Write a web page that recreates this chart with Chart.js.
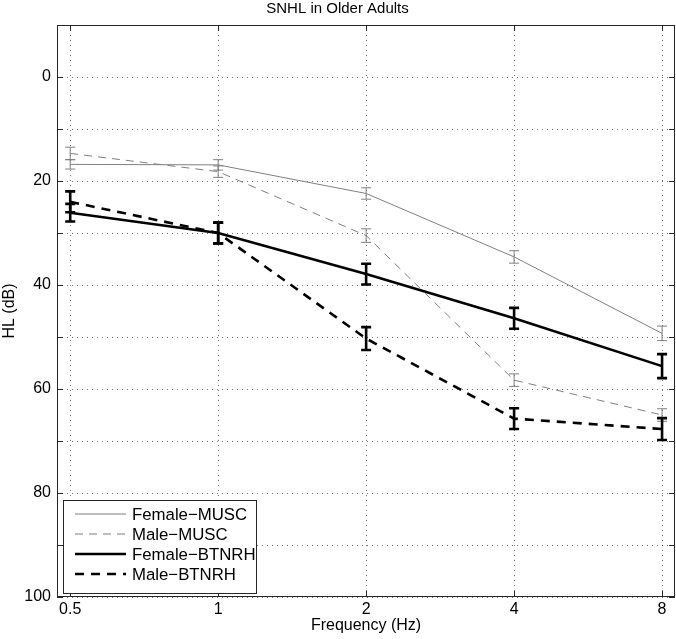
<!DOCTYPE html>
<html>
<head>
<meta charset="utf-8">
<script src="https://cdn.jsdelivr.net/npm/chart.js@4/dist/chart.umd.min.js"></script>
<style>
html,body{margin:0;padding:0;background:#fff;}
#wrap{width:676px;height:639px;position:relative;}
</style>
</head>
<body>
<div id="wrap"><canvas id="c" width="676" height="639"></canvas></div>
<script>
const frequencies = [0.5, 1, 2, 4, 8];
const xTickValues = [0.5, 1, 2, 4, 8];
const yTickValues = [0, 20, 40, 60, 80, 100];

const femaleMUSC = [16.8, 16.9, 22.4, 34.6, 49.3];
const femaleMUSCErr = [0.9, 1.0, 1.1, 1.2, 1.4];
const maleMUSC = [14.7, 18.2, 30.5, 58.3, 65.0];
const maleMUSCErr = [1.2, 1.1, 1.3, 1.2, 1.2];
const femaleBTNRH = [26.1, 30.0, 37.9, 46.4, 55.6];
const femaleBTNRHErr = [1.7, 2.0, 2.0, 2.0, 2.3];
const maleBTNRH = [24.0, 30.0, 50.3, 65.7, 67.7];
const maleBTNRHErr = [2.0, 2.0, 2.2, 2.0, 2.1];

const seriesNames = ['Female\u2212MUSC', 'Male\u2212MUSC', 'Female\u2212BTNRH', 'Male\u2212BTNRH'];

const FONT = '"Liberation Sans", Arial, Helvetica, sans-serif';

function pts(vals){ return frequencies.map((f,i)=>({x:f, y:vals[i]})); }

const datasets = [
  {label: seriesNames[0], data: pts(femaleMUSC), err: femaleMUSCErr, borderColor:'#7f7f7f', borderWidth:1, borderDash:[], capW:5},
  {label: seriesNames[1], data: pts(maleMUSC), err: maleMUSCErr, borderColor:'#7f7f7f', borderWidth:1, borderDash:[8,6], capW:5},
  {label: seriesNames[2], data: pts(femaleBTNRH), err: femaleBTNRHErr, borderColor:'#000000', borderWidth:2.6, borderDash:[], capW:5},
  {label: seriesNames[3], data: pts(maleBTNRH), err: maleBTNRHErr, borderColor:'#000000', borderWidth:2.6, borderDash:[9,7], capW:5}
].map(d=>Object.assign(d,{pointRadius:0, pointHoverRadius:0, fill:false, tension:0}));

const boxPlugin = {
  id:'boxPlugin',
  afterDatasetsDraw(chart){
    const ctx = chart.ctx, a = chart.chartArea;
    const xs = chart.scales.x, ys = chart.scales.y;
    ctx.save();
    chart.data.datasets.forEach(ds=>{
      ctx.strokeStyle = ds.borderColor;
      ctx.lineWidth = ds.borderWidth;
      ctx.setLineDash([]);
      ds.data.forEach((p,i)=>{
        const px = xs.getPixelForValue(p.x);
        const y1 = ys.getPixelForValue(p.y - ds.err[i]);
        const y2 = ys.getPixelForValue(p.y + ds.err[i]);
        ctx.beginPath();
        ctx.moveTo(px, y1); ctx.lineTo(px, y2);
        ctx.moveTo(px-ds.capW, y1); ctx.lineTo(px+ds.capW, y1);
        ctx.moveTo(px-ds.capW, y2); ctx.lineTo(px+ds.capW, y2);
        ctx.stroke();
      });
    });
    ctx.strokeStyle = '#262626';
    ctx.lineWidth = 1;
    ctx.strokeRect(Math.round(a.left)+0.5, Math.round(a.top)+0.5, Math.round(a.right-a.left)-1, Math.round(a.bottom-a.top)-1);
    const tl = 6;
    ctx.beginPath();
    xTickValues.forEach(v=>{
      const px = Math.round(xs.getPixelForValue(v))+0.5;
      ctx.moveTo(px, a.bottom); ctx.lineTo(px, a.bottom-tl);
      ctx.moveTo(px, a.top); ctx.lineTo(px, a.top+tl);
    });
    for(let v=0; v<=100; v+=10){
      const py = Math.round(ys.getPixelForValue(v))+0.5;
      ctx.moveTo(a.left, py); ctx.lineTo(a.left+tl, py);
      ctx.moveTo(a.right, py); ctx.lineTo(a.right-tl, py);
    }
    ctx.stroke();
    const lx = a.left+6, ly = a.bottom-97, lw = 193, lh = 93;
    ctx.fillStyle = '#fff';
    ctx.fillRect(lx, ly, lw, lh);
    ctx.strokeStyle = '#262626';
    ctx.lineWidth = 1;
    ctx.strokeRect(lx+0.5, ly+0.5, lw, lh);
    ctx.font = '16.8px ' + FONT;
    ctx.textBaseline = 'middle';
    ctx.textAlign = 'left';
    chart.data.datasets.forEach((ds,i)=>{
      const yy = ly + 14 + i*20;
      ctx.strokeStyle = ds.borderColor;
      ctx.lineWidth = ds.borderWidth;
      ctx.setLineDash(ds.borderDash);
      ctx.beginPath();
      ctx.moveTo(lx+12, yy); ctx.lineTo(lx+63, yy);
      ctx.stroke();
      ctx.setLineDash([]);
      ctx.fillStyle = '#000';
      ctx.fillText(ds.label, lx+69, yy+1);
    });
    ctx.restore();
  }
};

new Chart(document.getElementById('c'), {
  type:'line',
  data:{datasets},
  options:{
    responsive:false,
    animation:false,
    layout:{padding:{left:0,right:1,top:0,bottom:0}},
    plugins:{
      legend:{display:false},
      tooltip:{enabled:false},
      title:{display:true, text:'SNHL in Older Adults', color:'#000', font:{family:FONT, size:15, weight:'normal'}, padding:{top:0,bottom:7}}
    },
    scales:{
      x:{
        type:'logarithmic', min:0.47, max:8.5,
        afterBuildTicks:(s)=>{ s.ticks = xTickValues.map(v=>({value:v})); },
        afterFit:(s)=>{ s.height = 42; },
        ticks:{callback:(v)=>String(v), color:'#000', font:{family:FONT, size:16}, padding:3, maxRotation:0, autoSkip:false},
        grid:{color:'rgba(0,0,0,0.55)', lineWidth:1, drawTicks:false},
        border:{display:false, dash:[1,4]},
        title:{display:true, text:'Frequency (Hz)', color:'#000', font:{family:FONT, size:16}, padding:{top:0,bottom:4}}
      },
      y:{
        type:'linear', reverse:true, min:-10, max:100,
        afterBuildTicks:(s)=>{ const t=[]; for(let v=-10; v<=100; v+=10) t.push({value:v}); s.ticks=t; },
        afterFit:(s)=>{ s.width = 57; },
        ticks:{callback:(v)=> yTickValues.includes(v) ? String(v) : '', color:'#000', font:{family:FONT, size:16}, padding:6, autoSkip:false},
        grid:{color:'rgba(0,0,0,0.55)', lineWidth:1, drawTicks:false},
        border:{display:false, dash:[1,4]},
        title:{display:true, text:'HL (dB)', color:'#000', font:{family:FONT, size:16}, padding:{top:0,bottom:4}}
      }
    }
  },
  plugins:[boxPlugin]
});
</script>
</body>
</html>
